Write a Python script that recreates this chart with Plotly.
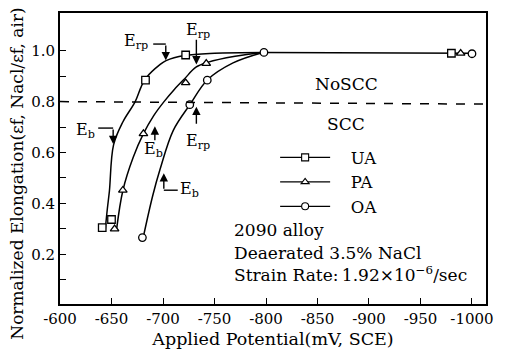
import plotly.graph_objects as go

FONT = "DejaVu Serif"

# ---- data ----
ua_x = [-641, -650, -683, -722, -980]
ua_y = [0.305, 0.337, 0.884, 0.983, 0.99]
pa_x = [-653, -661, -681, -722, -742, -989]
pa_y = [0.30, 0.452, 0.674, 0.874, 0.95, 0.99]
oa_x = [-680, -726, -743, -798, -1000]
oa_y = [0.266, 0.788, 0.884, 0.993, 0.988]

# fitted curves as traced on the picture
ua_cx = [-644, -646, -648, -652, -661, -673, -679, -684, -697, -703, -721, -750, -797]
ua_cy = [0.30, 0.38, 0.45, 0.63, 0.72, 0.80, 0.86, 0.895, 0.945, 0.961, 0.981, 0.99, 0.993]
pa_cx = [-655, -661, -671, -681, -691, -701, -711, -721, -732, -744, -770, -797]
pa_cy = [0.30, 0.45, 0.58, 0.674, 0.745, 0.80, 0.848, 0.89, 0.935, 0.955, 0.978, 0.993]
oa_cx = [-681, -690, -697, -710, -726.5, -743, -768, -797]
oa_cy = [0.27, 0.43, 0.532, 0.687, 0.79, 0.885, 0.952, 0.993]
plateau_x = [-797, -1000]
plateau_y = [0.993, 0.99]

series_names = ["UA", "PA", "OA"]
x_ticks = [-600, -650, -700, -750, -800, -850, -900, -950, -1000]
x_ticktext = ["-600", "-650", "-700", "-750", "-800", "-850", "-900", "-950", "-1000"]
y_ticks = [0.1, 0.2, 0.3, 0.4, 0.5, 0.6, 0.7, 0.8, 0.9, 1.0]
y_ticktext = ["", "0.2", "", "0.4", "", "0.6", "", "0.8", "", "1.0"]
scc_limit = 0.8
x_title = "Applied Potential(mV, SCE)"
y_title = "Normalized Elongation(\u03b5f, Nacl/\u03b5f, air)"

fig = go.Figure()
line_style = dict(color="black", width=1.5, shape="spline", smoothing=1.0)
for cx, cy in [(ua_cx, ua_cy), (pa_cx, pa_cy), (oa_cx, oa_cy), (plateau_x, plateau_y)]:
    fig.add_trace(go.Scatter(x=cx, y=cy, mode="lines", line=line_style,
                             showlegend=False, hoverinfo="skip"))

symbols = ["square", "triangle-up", "circle"]
pts = [(ua_x, ua_y), (pa_x, pa_y), (oa_x, oa_y)]
for (px, py), sym, name in zip(pts, symbols, series_names):
    fig.add_trace(go.Scatter(x=px, y=py, mode="markers", showlegend=False,
                             marker=dict(symbol=sym, size=7.5, color="white",
                                         line=dict(color="black", width=1.3))))
    # legend entry
    fig.add_trace(go.Scatter(x=[None], y=[None], mode="lines+markers",
                             name="\u00a0\u00a0\u00a0" + name,
                             line=dict(color="black", width=1.3),
                             marker=dict(symbol=sym, size=7, color="white",
                                         line=dict(color="black", width=1.1))))

# dashed SCC limit line
fig.add_shape(type="line", xref="paper", x0=0, x1=1, yref="y", y0=scc_limit, y1=scc_limit - 0.01,
              line=dict(color="black", width=1.5, dash="dash"))

tfont = dict(family=FONT, size=17, color="black")
afont = dict(family=FONT, size=16, color="black")

def txt(x, y, s, font=tfont, xanchor="center"):
    fig.add_annotation(x=x, y=y, xref="x", yref="y", text=s, showarrow=False,
                       font=font, xanchor=xanchor, yanchor="middle")

def arrow(x0, y0, x1, y1):
    fig.add_annotation(x=x1, y=y1, ax=x0, ay=y0, xref="x", yref="y", axref="x", ayref="y",
                       text="", showarrow=True, arrowhead=2, arrowsize=1.2, arrowwidth=1.4,
                       arrowcolor="black")

def seg(x0, y0, x1, y1):
    fig.add_shape(type="line", xref="x", yref="y", x0=x0, y0=y0, x1=x1, y1=y1,
                  line=dict(color="black", width=1.4))

txt(-877.8, 0.868, "NoSCC")
txt(-877.8, 0.713, "SCC")
txt(-767, 0.297, "2090 alloy", xanchor="left")
txt(-767, 0.207, "Deaerated 3.5% NaCl", xanchor="left")
txt(-767, 0.123, "Strain Rate:\u20091.92\u00d710<sup>\u22126</sup>/sec", xanchor="left")

# E_rp (UA)
txt(-674, 1.036, "E<sub>rp</sub>", afont)
seg(-690.5, 1.026, -702.7, 1.026)
arrow(-702.7, 1.026, -702.7, 0.962)
# E_rp (PA)
txt(-734, 1.081, "E<sub>rp</sub>", afont)
arrow(-732.4, 1.049, -732.4, 0.946)
# E_b (UA)
txt(-625.2, 0.687, "E<sub>b</sub>", afont)
seg(-637.1, 0.696, -651.6, 0.696)
arrow(-651.6, 0.696, -651.6, 0.633)
# E_b (PA)
txt(-690.4, 0.610, "E<sub>b</sub>", afont)
arrow(-692.1, 0.642, -692.1, 0.703)
# E_rp (OA)
txt(-734, 0.642, "E<sub>rp</sub>", afont)
arrow(-732.4, 0.707, -732.4, 0.780)
# E_b (OA)
txt(-726, 0.455, "E<sub>b</sub>", afont)
seg(-714.3, 0.452, -700.8, 0.452)
arrow(-700.8, 0.452, -700.8, 0.519)

# y-axis title (placed as rotated text so it can sit slightly below centre, like the reference)
fig.add_annotation(xref="paper", yref="paper", x=-0.1, y=0.449, text=y_title,
                   textangle=-90, showarrow=False, xanchor="center", yanchor="middle",
                   font=dict(family=FONT, size=17, color="black"))

fig.update_layout(
    width=505, height=357,
    margin=dict(l=60, r=16, t=11, b=51),
    paper_bgcolor="white", plot_bgcolor="white",
    font=dict(family=FONT, size=15, color="black"),
    legend=dict(x=0.505, y=0.563, xanchor="left", yanchor="top",
                font=dict(family=FONT, size=16.5), itemwidth=50,
                bgcolor="rgba(0,0,0,0)", tracegroupgap=0),
)
fig.update_xaxes(range=[-600, -1013.6], tickvals=x_ticks, ticktext=x_ticktext,
                 ticks="inside", ticklen=6, tickwidth=1.3, tickcolor="black",
                 showline=True, linecolor="black", linewidth=2, mirror=True,
                 showgrid=False, zeroline=False,
                 tickfont=dict(family=FONT, size=15),
                 title=dict(text=x_title, font=dict(family=FONT, size=17.5), standoff=6))
fig.update_yaxes(range=[0.005, 1.148], tickvals=y_ticks, ticktext=y_ticktext,
                 ticks="inside", ticklen=6, tickwidth=1.3, tickcolor="black",
                 showline=True, linecolor="black", linewidth=2, mirror=True,
                 showgrid=False, zeroline=False,
                 tickfont=dict(family=FONT, size=15))

fig.write_html("out.html")
